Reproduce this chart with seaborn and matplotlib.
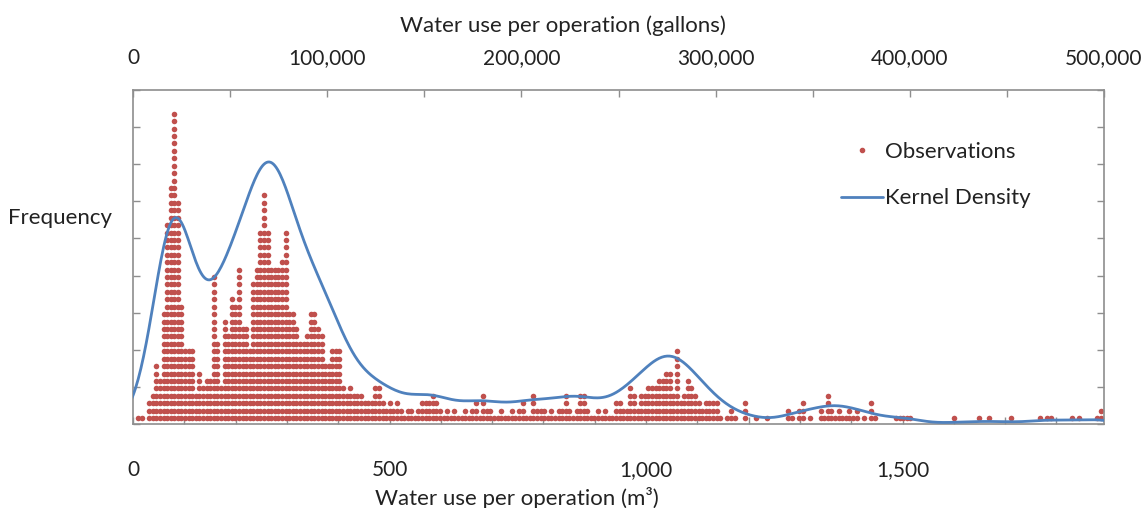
import numpy as np
import pandas as pd
import matplotlib
matplotlib.use("Agg")
import matplotlib.pyplot as plt
import seaborn as sns
from matplotlib.lines import Line2D
from matplotlib.ticker import FixedLocator, MultipleLocator

# ---- data -------------------------------------------------------------
BIN_WIDTH = 7.0          # m3 covered by one column of dots
GAL_PER_M3 = 264.172

# number of operations in each 7 m3 bin, starting at 0 m3
counts_low = [0, 1, 1, 0, 3, 4, 8, 6, 15, 27, 32, 42, 30, 16, 10, 10, 10, 4, 7, 5,
              6, 6, 20, 11, 5, 14, 12, 17, 16, 21, 13, 13, 10, 19, 21, 26, 31, 26, 21, 21,
              21, 22, 26, 15, 15, 13, 11, 11, 12, 15, 15, 13, 12, 8, 8, 10, 10, 10, 5, 4,
              5, 4, 4, 4, 3, 3, 3, 5, 5, 3, 2, 3, 2, 3, 2, 1, 2, 2, 1, 2,
              3, 3, 3, 4, 3, 2, 1, 2, 1]
counts_mid = [2, 1, 1, 2, 1, 2, 3, 1, 4, 2, 2, 1, 1, 2, 1, 1, 2, 1, 2, 3,
              1, 1, 4, 2, 2, 2, 1, 2, 1, 2, 2, 4, 2, 1, 2, 4, 4, 2, 1, 1,
              2, 1, 2, 1, 1, 3, 3, 2, 2, 5, 4, 2, 4, 4, 5, 5, 5, 6, 6, 7,
              7, 4, 10, 3, 4, 6, 5, 4, 3, 2, 3, 3, 3, 3, 1, 0, 1, 2, 1, 0,
              0]
counts_high = [3, 0, 0, 1, 0, 0, 1, 0, 0, 0, 0, 0, 2, 1, 0, 2, 3, 0, 1, 0,
               0, 2, 1, 4, 2, 1, 2, 1, 1, 2, 1, 2, 0, 1, 0, 3, 1, 0, 0, 0,
               0, 0, 1, 1, 1, 1, 1, 0, 0, 0, 0, 0, 0, 0, 0, 0, 0, 0, 1, 0,
               0, 0, 0, 0, 0, 1, 0, 0, 1, 0, 0, 0, 0, 0, 1, 0, 0, 0, 0, 0,
               0, 0, 1, 0, 1, 1, 0, 0, 0, 0, 0, 1, 0, 1, 0, 0, 0, 0, 1, 2]

bottom_ticks = [0, 500, 1000, 1500]
bottom_labels = ["0", "500", "1,000", "1,500"]
top_ticks = [0, 100000, 200000, 300000, 400000, 500000]
top_labels = ["0", "100,000", "200,000", "300,000", "400,000", "500,000"]

counts = np.array(counts_low + counts_mid + counts_high)
centers = (np.arange(len(counts)) + 0.5) * BIN_WIDTH

# one row per observation: x = bin centre, y = position in the stack
xs, ys = [], []
for c, n in zip(centers, counts):
    for k in range(1, n + 1):
        xs.append(c)
        ys.append(k - 0.2)
obs = pd.DataFrame({"water_m3": xs, "stack": ys})

# ---- style ------------------------------------------------------------
sns.set_style("white")
plt.rcParams["font.family"] = ["Lato", "DejaVu Sans"]
RED = "#c0504d"
BLUE = "#4f81bd"
GREY = "#8e8e8e"
TEXT = "#222222"

fig = plt.figure(figsize=(11.47, 5.08), dpi=100)
ax = fig.add_axes([133 / 1147, 1 - 424 / 508, 971 / 1147, 334 / 508])

sns.scatterplot(data=obs, x="water_m3", y="stack", ax=ax, color=RED,
                s=16, linewidth=0, marker="o", legend=False)

xmax = 500000 / GAL_PER_M3
ax.set_xlim(0, xmax)
ax.set_ylim(0, 45)

# kernel density on its own vertical scale
ax2 = ax.twinx()
sns.kdeplot(data=obs, x="water_m3", ax=ax2, bw_adjust=0.38, color=BLUE,
            linewidth=2, gridsize=800, cut=3)
peak = ax2.lines[0].get_ydata().max()
ax2.set_ylim(0, peak * 45 / 35.3)
ax2.set_xlim(0, xmax)
ax2.set_axis_off()

# axes styling
for sp in ax.spines.values():
    sp.set_color(GREY)
    sp.set_linewidth(1.2)

ax.xaxis.set_major_locator(FixedLocator(bottom_ticks))
ax.set_xticklabels(bottom_labels)
ax.xaxis.set_minor_locator(MultipleLocator(100))
ax.yaxis.set_major_locator(MultipleLocator(5))
ax.set_yticklabels([])
ax.tick_params(axis="both", which="both", direction="in", length=5,
               color=GREY, width=1)
ax.tick_params(axis="x", which="both", top=False, bottom=True,
               labelsize=15, labelcolor=TEXT, pad=26)
ax.tick_params(axis="y", left=True, right=True)
ax.set_xlabel("Water use per operation (m\u00b3)", fontsize=16, color=TEXT)
ax.xaxis.set_label_coords(0.395, -0.19)
ax.set_ylabel("Frequency", rotation=0, fontsize=16, color=TEXT,
              ha="right", va="center")
ax.yaxis.set_label_coords(-0.022, 0.617)

sec = ax.secondary_xaxis("top", functions=(lambda m: m * GAL_PER_M3,
                                            lambda g: g / GAL_PER_M3))
sec.xaxis.set_major_locator(FixedLocator(top_ticks))
sec.set_xticklabels(top_labels)
sec.xaxis.set_minor_locator(MultipleLocator(50000))
sec.tick_params(axis="x", which="both", direction="in", length=5,
                color=GREY, width=1, labelsize=15, labelcolor=TEXT, pad=16)
sec.spines["top"].set_visible(False)
sec.set_xlabel("Water use per operation (gallons)", fontsize=16, color=TEXT,
               labelpad=11)
sec.xaxis.label.set_x(0.443)

handles = [Line2D([], [], marker="o", color=RED, linestyle="none",
                  markersize=3),
           Line2D([], [], color=BLUE, linewidth=2)]
leg = ax.legend(handles, ["Observations", "Kernel Density"], frameon=False,
                loc="upper left", bbox_to_anchor=(0.709, 0.905),
                fontsize=16, handlelength=1.85, handletextpad=0.1,
                labelspacing=1.2)
for t in leg.get_texts():
    t.set_color(TEXT)

fig.savefig("out.png", dpi=100)
